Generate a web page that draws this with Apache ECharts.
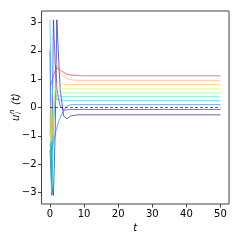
<!DOCTYPE html>
<html>
<head>
<meta charset="utf-8">
<script src="https://cdn.jsdelivr.net/npm/echarts@6/dist/echarts.min.js"></script>
<style>html,body{margin:0;padding:0;background:#fff}#c{width:240px;height:240px}</style>
</head>
<body>
<div id="c"></div>
<script>
const times = [0, 0.25, 0.5, 0.75, 1, 1.5, 2, 2.5, 3, 4, 5, 6, 8, 10, 50];
const uNavy   = [-1.5, -2.2, -2.7, -3.0, -3.1, -1.0, 3.1, 1.8, 0.6, -0.3, -0.4, -0.3, -0.26, -0.26, -0.26];
const uBlue   = [2.0, -1.0, -3.1, 0.5, 3.1, 1.6, 0.7, 0.3, 0.05, -0.1, -0.08, -0.07, -0.07, -0.07, -0.07];
const uPeri   = [-1.3, -1.55, -1.5, -1.35, -1.2, -0.95, -0.7, -0.5, -0.35, -0.1, 0.05, 0.10, 0.10, 0.10, 0.10];
const uSky    = [3.1, 0.0, -3.1, -2.0, -0.5, 0.3, 0.35, 0.28, 0.25, 0.24, 0.24, 0.24, 0.24, 0.24, 0.24];
const uCyan   = [-0.3, -2.6, -3.0, -1.8, -0.6, 0.2, 0.45, 0.42, 0.40, 0.38, 0.38, 0.38, 0.38, 0.38, 0.38];
const uGreen  = [-1.0, -0.3, 0.3, 0.6, 0.75, 0.7, 0.6, 0.55, 0.53, 0.52, 0.52, 0.52, 0.52, 0.52, 0.52];
const uYellow = [-0.8, -1.2, -0.9, -0.4, 0.1, 0.6, 0.75, 0.72, 0.69, 0.67, 0.66, 0.66, 0.66, 0.66, 0.66];
const uGold   = [0.3, -0.9, -1.2, -0.8, -0.2, 0.6, 0.9, 0.88, 0.85, 0.82, 0.81, 0.81, 0.81, 0.81, 0.81];
const uOrange = [2.1, 2.08, 2.04, 1.98, 1.90, 1.70, 1.50, 1.35, 1.24, 1.10, 1.02, 0.98, 0.96, 0.96, 0.96];
const uRed    = [0.74, 0.82, 0.92, 1.02, 1.12, 1.30, 1.40, 1.38, 1.32, 1.24, 1.18, 1.15, 1.13, 1.12, 1.12];
const uMean   = [0, 0, 0, 0, 0, 0, 0, 0, 0, 0, 0, 0, 0, 0, 0];
const xTicks = [0, 10, 20, 30, 40, 50];
const yTicks = [-3, -2, -1, 0, 1, 2, 3];

const lines = [
  [uNavy, '#000080'], [uBlue, '#1010ff'], [uPeri, '#2060ff'], [uSky, '#00c0ff'],
  [uCyan, '#20e8c0'], [uGreen, '#70ff70'], [uYellow, '#e0f040'], [uGold, '#ffc020'],
  [uOrange, '#ffa060'], [uRed, '#ff1010']
];
const mk = arr => times.map((t, i) => [t, arr[i]]);
const series = lines.map(([arr, col]) => ({
  type: 'line', data: mk(arr), showSymbol: false, silent: true,
  lineStyle: { color: col, width: 1, opacity: 0.6 }
}));
series.push({ type: 'line', data: mk(uMean), showSymbol: false, silent: true,
  lineStyle: { color: '#222', width: 1.2, type: [3, 2], opacity: 0.7 } });

const fmt = v => String(v).replace('-', '\u2212');
const lbl = (s, x, y, size) => ({ type: 'text', x: x, y: y, style: {
  text: s, fontFamily: 'DejaVu Sans', fontStyle: 'italic', fontSize: size, fill: '#000',
  align: 'left', verticalAlign: 'middle' } });
const chart = echarts.init(document.getElementById('c'), null, { renderer: 'canvas' });
chart.setOption({
  animation: false,
  grid: { left: 41.5, right: 11, top: 11, bottom: 36, show: true, borderColor: '#444', borderWidth: 1,
          containLabel: false, outerBoundsMode: 'none' },
  xAxis: {
    type: 'value', min: -2.5, max: 52.5,
    name: 't', nameLocation: 'middle', nameGap: 18,
    nameTextStyle: { fontFamily: 'DejaVu Sans', fontStyle: 'italic', fontSize: 10, color: '#000' },
    axisLine: { show: false, onZero: false },
    axisTick: { show: true, customValues: xTicks, length: 3.5, inside: false, lineStyle: { color: '#444' } },
    axisLabel: { customValues: xTicks, formatter: fmt, fontFamily: 'DejaVu Sans', fontSize: 10, color: '#000', margin: 5 },
    splitLine: { show: false }
  },
  yAxis: {
    type: 'value', min: -3.41, max: 3.41,
    axisLine: { show: false, onZero: false },
    axisTick: { show: true, customValues: yTicks, length: 3.5, lineStyle: { color: '#444' } },
    axisLabel: { customValues: yTicks, formatter: fmt, fontFamily: 'DejaVu Sans', fontSize: 10, color: '#000', margin: 5 },
    splitLine: { show: false }
  },
  graphic: [{
    type: 'group', x: 16, y: 104, rotation: Math.PI / 2,
    children: [
      lbl('u', -17, 0, 10),
      lbl('n', -10, -4, 7),
      lbl('i', -10, 3.5, 7),
      lbl('(t)', -1, 0, 10)
    ]
  }],
  series: series
});
</script>
</body>
</html>
